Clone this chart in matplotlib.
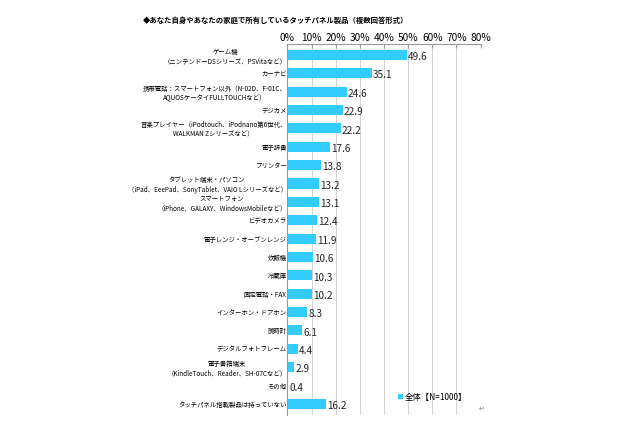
import matplotlib
matplotlib.use("Agg")
import matplotlib.pyplot as plt
from matplotlib.ticker import FuncFormatter

plt.rcParams['font.family'] = ['Noto Sans CJK JP', 'DejaVu Sans']

# ── Data ─────────────────────────────────────────────
categories = [
    "ゲーム機\n（ニンテンドーDSシリーズ、PSVitaなど）",
    "カーナビ",
    "携帯電話：スマートフォン以外（N-02D、F-01C、\nAQUOSケータイFULLTOUCHなど）",
    "デジカメ",
    "音楽プレイヤー（iPodtouch、iPodnano第6世代、\nWALKMAN Zシリーズなど）",
    "電子辞書",
    "プリンター",
    "タブレット端末・パソコン\n（iPad、EeePad、SonyTablet、VAIO Lシリーズなど）",
    "スマートフォン\n（iPhone、GALAXY、WindowsMobileなど）",
    "ビデオカメラ",
    "電子レンジ・オーブンレンジ",
    "炊飯機",
    "冷蔵庫",
    "固定電話・FAX",
    "インターホン・ドアホン",
    "腕時計",
    "デジタルフォトフレーム",
    "電子書籍端末\n（KindleTouch、Reader、SH-07Cなど）",
    "その他",
    "タッチパネル搭載製品は持っていない",
]
values = [49.6, 35.1, 24.6, 22.9, 22.2, 17.6, 13.8, 13.2, 13.1, 12.4,
          11.9, 10.6, 10.3, 10.2, 8.3, 6.1, 4.4, 2.9, 0.4, 16.2]
xticks = [0, 10, 20, 30, 40, 50, 60, 70, 80]

title = "◆あなた自身やあなたの家庭で所有しているタッチパネル製品（複数回答形式）"
series_name = "全体【N=1000】"
bar_color = "#33CCFF"

# ── Plot ─────────────────────────────────────────────
fig = plt.figure(figsize=(6.4, 4.26), dpi=100)
ax = fig.add_axes([0.449, 0.026, 0.302, 0.871])

pos = list(range(len(categories)))
ax.barh(pos, values, height=0.55, color=bar_color, edgecolor="none",
        label=series_name)
for p, v in zip(pos, values):
    ax.text(v + 0.4, p + 0.12, f"{v:.1f}", va="center", ha="left",
            fontsize=7.2, color="#222222")

ax.set_xlim(0, 80)
ax.set_ylim(len(categories) - 0.4, -0.6)
ax.set_xticks(xticks)
ax.xaxis.set_major_formatter(FuncFormatter(lambda x, _: f"{x:.0f}%"))
ax.xaxis.tick_top()
ax.tick_params(axis="x", direction="in", length=3, labelsize=7.3, pad=0.5,
               color="#999999")
ax.set_yticks(pos)
ax.set_yticklabels(categories, fontsize=4.6, multialignment="center")
ax.tick_params(axis="y", length=0, pad=0.5)
ax.grid(axis="x", color="#CCCCCC", linewidth=0.6)
ax.set_axisbelow(True)
for side in ("right", "bottom"):
    ax.spines[side].set_visible(False)
ax.spines["left"].set_color("#999999")
ax.spines["top"].set_color("#999999")

ax.legend(loc="lower right", bbox_to_anchor=(0.96, 0.02), fontsize=6,
          frameon=False, handlelength=0.6, handleheight=0.6,
          handletextpad=0.2, borderpad=0.2)

fig.text(0.223, 0.953, title, fontsize=5.3, fontweight="bold",
         ha="left", va="center")
fig.text(0.752, 0.035, "↵", fontsize=5, color="#888888", ha="center")

fig.savefig("out.png", dpi=100)
